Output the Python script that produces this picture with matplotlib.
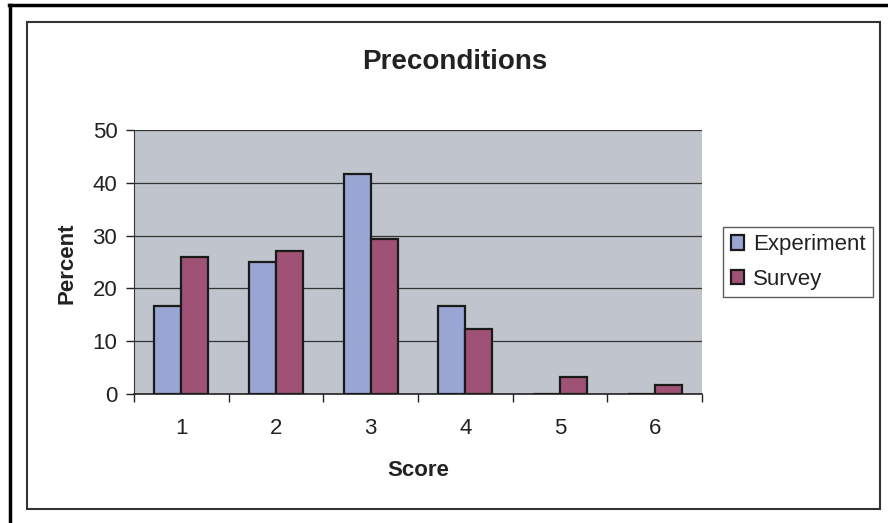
import numpy as np
import matplotlib.pyplot as plt
from matplotlib.patches import Rectangle
from matplotlib.lines import Line2D

plt.rcParams['font.family'] = ['Liberation Sans', 'DejaVu Sans']

# data
scores = ['1', '2', '3', '4', '5', '6']
experiment = [16.7, 25.0, 41.7, 16.7, 0, 0]
survey = [26.0, 27.0, 29.3, 12.3, 3.3, 1.7]

fig = plt.figure(figsize=(8.88, 5.23), dpi=100)
W, H = 888, 523

# axes placed in pixel coordinates of the reference
x0, x1, y0, y1 = 134, 702, 394, 130
ax = fig.add_axes([x0 / W, 1 - y0 / H, (x1 - x0) / W, (y0 - y1) / H])
ax.set_facecolor('#c0c4cc')

x = np.arange(len(scores))
w = 0.285
ax.bar(x - w / 2, experiment, w, color='#99a6d4', edgecolor='#1a1a1a', linewidth=1.6,
       label='Experiment', zorder=3)
ax.bar(x + w / 2, survey, w, color='#a05276', edgecolor='#1a1a1a', linewidth=1.6,
       label='Survey', zorder=3)

ax.set_xlim(-0.5, len(scores) - 0.5)
ax.set_ylim(0, 50)
ax.set_yticks(range(0, 51, 10))
ax.yaxis.grid(True, color='#333333', linewidth=0.9, zorder=1)
ax.set_axisbelow(True)

ax.set_xticks(x)
ax.set_xticklabels(scores)
ax.set_xticks(np.arange(-0.5, len(scores) - 0.4, 1), minor=True)
ax.tick_params(axis='x', which='major', length=0, pad=17, labelsize=16, labelcolor='#222222')
ax.tick_params(axis='x', which='minor', length=6, width=1, direction='out', color='#222222')
ax.tick_params(axis='y', length=6, width=1, direction='out', labelsize=16, pad=6,
               color='#222222', labelcolor='#222222')

for side in ['top', 'right']:
    ax.spines[side].set_visible(False)
ax.spines['left'].set_color('#333333')
ax.spines['bottom'].set_color('#222222')
ax.spines['bottom'].set_linewidth(1.2)

ax.set_xlabel('Score', fontsize=16, fontweight='bold', color='#222222', va='center')
ax.xaxis.set_label_coords((418 - x0) / (x1 - x0), (y0 - 470) / (y0 - y1))
ax.set_ylabel('Percent', fontsize=16, fontweight='bold', color='#222222', va='center')
ax.yaxis.set_label_coords((67 - x0) / (x1 - x0), (y0 - 263) / (y0 - y1))

fig.text(455 / W, 1 - 62 / H, 'Preconditions', fontsize=20, fontweight='bold',
         color='#222222', ha='center', va='center')

leg = fig.legend(loc='center left', bbox_to_anchor=(723 / W, 1 - 262 / H), fontsize=16,
                 frameon=True, fancybox=False, edgecolor='#333333', handlelength=0.6,
                 handleheight=0.6, handletextpad=0.4, borderpad=0.35, labelspacing=0.6,
                 borderaxespad=0)
leg.get_frame().set_linewidth(1.0)
for t in leg.get_texts():
    t.set_color('#222222')

# chart frame and outer page border
fig.patches.append(Rectangle((27 / W, 1 - 509 / H), (880 - 27) / W, (509 - 22) / H,
                             transform=fig.transFigure, fill=False,
                             edgecolor='#333333', linewidth=1.5))
fig.lines.append(Line2D([9 / W, 1], [1 - 5 / H, 1 - 5 / H], transform=fig.transFigure,
                        color='black', linewidth=2.5))
fig.lines.append(Line2D([10 / W, 10 / W], [0, 1 - 5 / H], transform=fig.transFigure,
                        color='black', linewidth=2.5))

fig.savefig('out.png', dpi=100)
